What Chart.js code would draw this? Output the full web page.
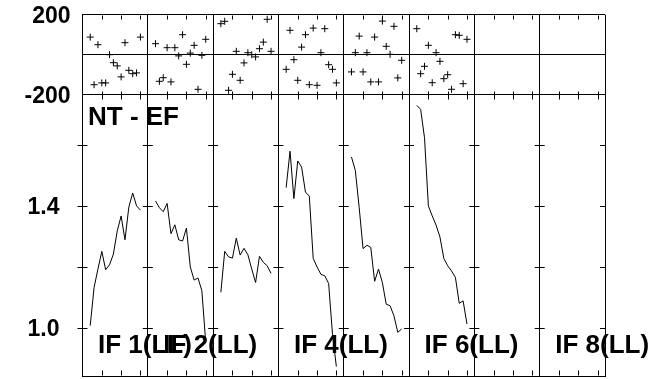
<!DOCTYPE html>
<html>
<head>
<meta charset="utf-8">
<script src="https://cdn.jsdelivr.net/npm/chart.js@4.4.0/dist/chart.umd.min.js"></script>
<style>
  html, body { margin: 0; padding: 0; background: #fff; }
  #chart { display: block; }
</style>
</head>
<body>
<canvas id="chart" width="654" height="379"></canvas>
<script>
// sample times inside one IF panel (hours)
const times = [0.4, 0.6, 0.8, 1.0, 1.2, 1.4, 1.6, 1.8, 2.0, 2.2, 2.4, 2.6, 2.8, 3.0];

// amplitude per IF (lower panel)
const amp1 = [1.008, 1.133, 1.193, 1.251, 1.191, 1.207, 1.242, 1.318, 1.367, 1.289, 1.396, 1.442, 1.400, 1.386];
const amp2 = [1.416, 1.394, 1.381, 1.408, 1.309, 1.338, 1.289, 1.285, 1.327, 1.200, 1.157, 1.164, 1.122, 0.953];
const amp3 = [1.117, 1.251, 1.233, 1.229, 1.294, 1.239, 1.261, 1.240, 1.193, 1.149, 1.235, 1.215, 1.204, 1.179];
const amp4 = [1.460, 1.579, 1.424, 1.547, 1.527, 1.445, 1.432, 1.228, 1.200, 1.176, 1.171, 1.146, 0.980, 0.874];
const amp5 = [1.560, 1.516, 1.394, 1.260, 1.271, 1.264, 1.153, 1.193, 1.149, 1.078, 1.073, 1.040, 0.986, 0.997];
const amp6 = [1.729, 1.716, 1.623, 1.400, 1.367, 1.337, 1.298, 1.228, 1.204, 1.187, 1.166, 1.081, 1.089, 1.013];

// residuals per IF (upper panel)
const res1 = [88, -150, 50, -141, -141, 0, -40, -56, -111, 60, -78, -95, -91, 88];
const res2 = [55, -133, -115, 35, -136, 35, -6, 100, -48, 8, 47, -173, -3, 77];
const res3 = [155, 167, -178, -98, 17, -128, -41, 10, 0, -11, 30, 63, 177, 17];
const res4 = [-73, 122, -25, -128, 38, 100, -150, 133, -153, 10, 130, -50, -73, -141];
const res5 = [-86, 10, 93, -86, 10, -136, 88, -136, 168, 42, 2, 142, -116, -28];
const res6 = [130, -95, -58, 47, -140, 10, -33, -120, -100, -173, 100, 97, -145, 77];

const ampSeries = [amp1, amp2, amp3, amp4, amp5, amp6];
const resSeries = [res1, res2, res3, res4, res5, res6];

// panel labels, empty ones are not printed
const ifLabels = ['IF 1(LL)', 'IF 2(LL)', '', 'IF 4(LL)', '', 'IF 6(LL)', '', 'IF 8(LL)'];
const plotTitle = 'NT - EF';

// axes
const panelSpan = 3.383;          // hours per panel
const hourTicks = [1, 2, 3];
const resTicks = [-200, 0, 200];
const ampTicks = [1.0, 1.2, 1.4, 1.6];
const ampLabelled = [1.0, 1.4];

const boundaries = ifLabels.map((_, i) => i * panelSpan).concat([ifLabels.length * panelSpan]);
const FONT = '"Liberation Sans", Arial, Helvetica, sans-serif';

const datasets = [];
ampSeries.forEach((vals, p) => {
    datasets.push({
        data: vals.map((v, i) => ({ x: p * panelSpan + times[i], y: v })),
        yAxisID: 'ya',
        borderColor: '#000',
        borderWidth: 1,
        pointRadius: 0,
        tension: 0,
        fill: false
    });
});
resSeries.forEach((vals, p) => {
    datasets.push({
        data: vals.map((v, i) => ({ x: p * panelSpan + times[i], y: v })),
        yAxisID: 'yr',
        showLine: false,
        pointStyle: 'cross',
        pointRadius: 3.5,
        borderColor: '#000',
        backgroundColor: '#000',
        borderWidth: 1
    });
});

const framePlugin = {
    id: 'frame',
    afterDatasetsDraw(chart) {
        const { ctx, chartArea, scales: { x, yr, ya } } = chart;
        const mid = Math.round(yr.getPixelForValue(-200)) + 0.5;
        const top = Math.round(chartArea.top) + 0.5;
        const bottom = Math.round(chartArea.bottom) - 0.5;
        ctx.save();
        ctx.strokeStyle = '#000';
        ctx.lineWidth = 1;
        ctx.beginPath();
        // time ticks
        for (let p = 0; p < ifLabels.length; p++) {
            hourTicks.forEach(h => {
                const px = Math.round(x.getPixelForValue(p * panelSpan + h)) + 0.5;
                ctx.moveTo(px, top); ctx.lineTo(px, top + 4);
                ctx.moveTo(px, mid - 4); ctx.lineTo(px, mid + 4);
                ctx.moveTo(px, bottom); ctx.lineTo(px, bottom - 5);
            });
        }
        // amplitude ticks on every panel edge
        boundaries.forEach((b, i) => {
            const px = x.getPixelForValue(b);
            const right = i === boundaries.length - 1 ? 0 : 5;
            ampTicks.forEach(v => {
                const py = Math.round(ya.getPixelForValue(v)) + 0.5;
                ctx.moveTo(px - 5, py); ctx.lineTo(px + right, py);
            });
        });
        ctx.stroke();

        ctx.fillStyle = '#000';
        ctx.textBaseline = 'alphabetic';
        ctx.textAlign = 'left';
        ctx.font = 'bold 26px ' + FONT;
        ctx.fillText(plotTitle, chartArea.left + 5.5, yr.bottom + 30);
        ifLabels.forEach((txt, p) => {
            if (!txt) return;
            ctx.fillText(txt, x.getPixelForValue(p * panelSpan) + 15.5, chartArea.bottom - 23);
        });
        ctx.restore();
    }
};

const ctx = document.getElementById('chart').getContext('2d');
const chart = new Chart(ctx, {
    type: 'line',
    data: { datasets: datasets },
    options: {
        responsive: false,
        animation: false,
        devicePixelRatio: 1,
        layout: { autoPadding: false, padding: { top: 14.7, right: 49, bottom: 2.7, left: 0 } },
        plugins: { legend: { display: false }, tooltip: { enabled: false } },
        scales: {
            x: {
                type: 'linear',
                position: 'bottom',
                min: 0,
                max: ifLabels.length * panelSpan,
                afterBuildTicks: s => { s.ticks = boundaries.map(v => ({ value: v })); },
                afterFit: s => { s.height = 0; },
                ticks: { display: false },
                grid: { color: '#000', lineWidth: 1, drawTicks: false },
                border: { color: '#000', width: 1 }
            },
            ya: {
                type: 'linear',
                position: 'left',
                stack: 'panels',
                stackWeight: 281.6,
                min: 0.842,
                max: 1.764,
                afterBuildTicks: s => { s.ticks = ampTicks.map(v => ({ value: v })); },
                afterFit: s => { s.width = 82.5; s.paddingTop = 0; s.paddingBottom = 0; },
                ticks: {
                    color: '#000',
                    padding: 15,
                    autoSkip: false,
                    labelOffset: 2,
                    font: { family: FONT, size: 23, weight: 'bold' },
                    callback: v => (ampLabelled.includes(v) ? v.toFixed(1) : '')
                },
                grid: { display: false },
                border: { color: '#000', width: 1 }
            },
            yr: {
                type: 'linear',
                position: 'left',
                stack: 'panels',
                stackWeight: 80,
                min: -200,
                max: 200,
                afterBuildTicks: s => { s.ticks = resTicks.map(v => ({ value: v })); },
                afterFit: s => { s.width = 82.5; s.paddingTop = 0; s.paddingBottom = 0; },
                ticks: {
                    color: '#000',
                    padding: 12,
                    autoSkip: false,
                    labelOffset: 2,
                    font: { family: FONT, size: 23, weight: 'bold' },
                    callback: v => (v === 0 ? '' : String(v))
                },
                grid: { color: '#000', lineWidth: 1, drawTicks: false },
                border: { color: '#000', width: 1 }
            }
        }
    },
    plugins: [framePlugin]
});
</script>
</body>
</html>
